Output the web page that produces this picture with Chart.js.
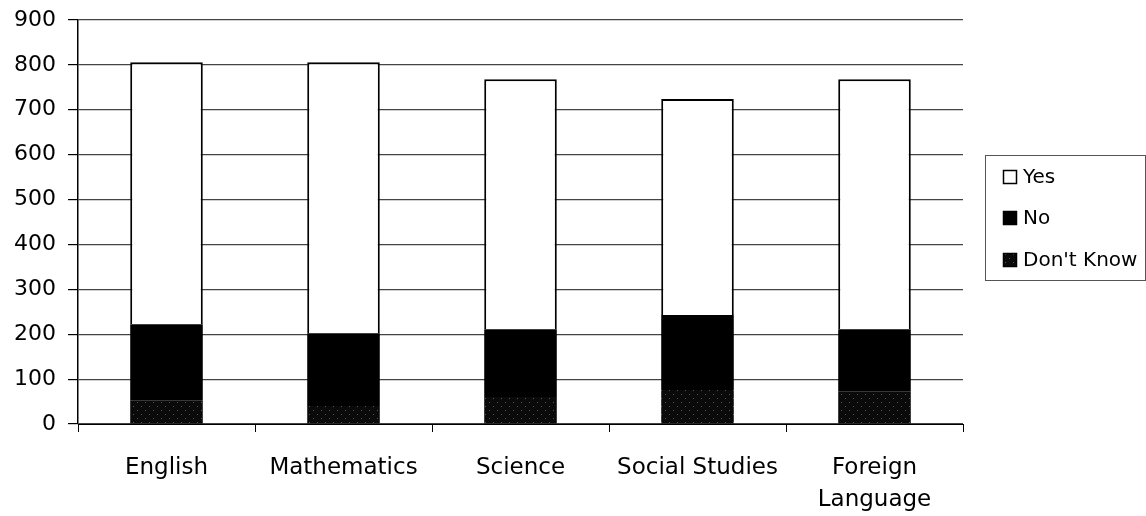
<!DOCTYPE html>
<html>
<head>
<meta charset="utf-8">
<script src="https://cdn.jsdelivr.net/npm/chart.js@4/dist/chart.umd.min.js"></script>
<style>
  body { margin: 0; background: #fff; }
  #wrap { width: 1146px; height: 516px; }
</style>
</head>
<body>
<div id="wrap"><canvas id="chart"></canvas></div>
<script>
    // Данные
    const subjects = ['English', 'Mathematics', 'Science', 'Social Studies', ['Foreign', 'Language']];
    const yesValues = [584, 604, 557, 481, 557];
    const noValues = [169, 162, 151, 167, 138];
    const dontKnowValues = [53, 40, 60, 76, 73];
    const yTicks = [0, 100, 200, 300, 400, 500, 600, 700, 800, 900];

    const FONT = 'DejaVu Sans';

    // Тёмная штриховка для "Don't Know"
    function makePattern() {
        const c = document.createElement('canvas');
        c.width = 8;
        c.height = 8;
        const ctx = c.getContext('2d');
        ctx.fillStyle = '#0a0a0a';
        ctx.fillRect(0, 0, 8, 8);
        ctx.fillStyle = '#555';
        ctx.fillRect(1, 2, 1, 1);
        ctx.fillRect(5, 6, 1, 1);
        return ctx.createPattern(c, 'repeat');
    }
    const dkPattern = makePattern();

    // Легенда в рамке справа
    const boxLegend = {
        id: 'boxLegend',
        afterDraw(chart) {
            const ctx = chart.ctx;
            ctx.save();
            ctx.strokeStyle = '#555';
            ctx.lineWidth = 1;
            ctx.strokeRect(985.5, 155.5, 160, 125);
            const items = [2, 1, 0];
            const rows = [177, 218, 260];
            ctx.font = '20px "' + FONT + '"';
            ctx.textBaseline = 'middle';
            items.forEach((idx, i) => {
                const ds = chart.data.datasets[idx];
                const y = rows[i];
                ctx.fillStyle = ds.backgroundColor;
                ctx.fillRect(1003, y - 7, 14, 14);
                ctx.strokeStyle = '#000';
                ctx.lineWidth = 1.5;
                ctx.strokeRect(1003.5, y - 6.5, 13, 13);
                ctx.fillStyle = '#000';
                ctx.fillText(ds.label, 1023, y + 1);
            });
            ctx.restore();
        }
    };

    new Chart(document.getElementById('chart'), {
        type: 'bar',
        data: {
            labels: subjects,
            datasets: [
                {
                    label: "Don't Know",
                    data: dontKnowValues,
                    backgroundColor: dkPattern,
                    borderWidth: 0
                },
                {
                    label: 'No',
                    data: noValues,
                    backgroundColor: '#000',
                    borderWidth: 0
                },
                {
                    label: 'Yes',
                    data: yesValues,
                    backgroundColor: '#fff',
                    borderColor: '#000',
                    borderWidth: 2
                }
            ]
        },
        options: {
            responsive: true,
            maintainAspectRatio: false,
            animation: false,
            barPercentage: 0.41,
            categoryPercentage: 1,
            layout: {
                padding: { top: 20, right: 183, left: 0, bottom: 0 }
            },
            plugins: {
                legend: { display: false },
                tooltip: { enabled: false }
            },
            scales: {
                x: {
                    stacked: true,
                    afterFit: s => { s.height = 92; },
                    border: { display: true, color: '#000', width: 1 },
                    grid: {
                        offset: true,
                        drawOnChartArea: false,
                        drawTicks: true,
                        tickLength: 8,
                        tickColor: '#000'
                    },
                    ticks: {
                        color: '#000',
                        padding: 20,
                        maxRotation: 0,
                        font: { family: FONT, size: 23, lineHeight: 1.4 }
                    }
                },
                y: {
                    stacked: true,
                    min: 0,
                    max: 900,
                    afterFit: s => { s.width = 78; s.paddingTop = 0; },
                    afterBuildTicks: s => { s.ticks = yTicks.map(v => ({ value: v })); },
                    border: { display: true, color: '#000', width: 1.5 },
                    grid: {
                        color: '#444',
                        lineWidth: 1.2,
                        drawTicks: true,
                        tickLength: 10,
                        tickColor: '#000'
                    },
                    ticks: {
                        color: '#000',
                        padding: 12,
                        font: { family: FONT, size: 22, lineHeight: 1 }
                    }
                }
            }
        },
        plugins: [boxLegend]
    });
</script>
</body>
</html>
